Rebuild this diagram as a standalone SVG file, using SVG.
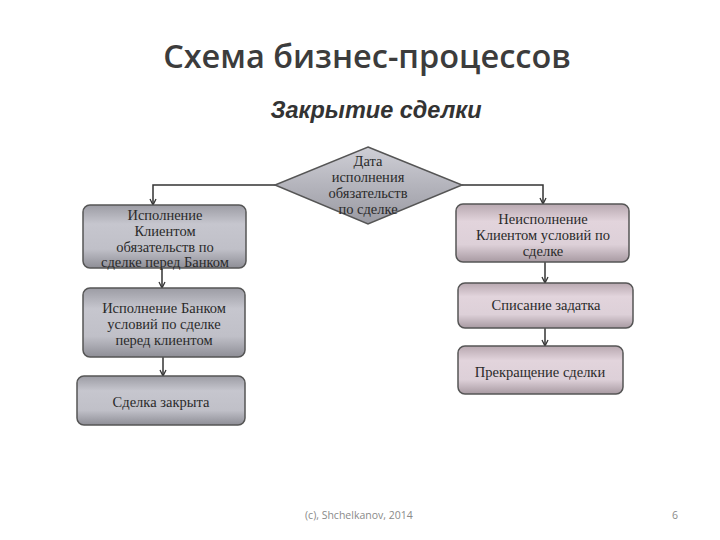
<svg xmlns="http://www.w3.org/2000/svg" width="720" height="540" viewBox="0 0 720 540">
<defs>
<linearGradient id="gGray" x1="0" y1="0" x2="0" y2="1">
<stop offset="0" stop-color="#9c9ca4"/>
<stop offset="0.3" stop-color="#c6c6ce"/>
<stop offset="0.7" stop-color="#c0c0c8"/>
<stop offset="1" stop-color="#8e8e96"/>
</linearGradient>
<linearGradient id="gPink" x1="0" y1="0" x2="0" y2="1">
<stop offset="0" stop-color="#b8a8b0"/>
<stop offset="0.3" stop-color="#e2d4dc"/>
<stop offset="0.7" stop-color="#ddd0d8"/>
<stop offset="1" stop-color="#a89aa2"/>
</linearGradient>
<linearGradient id="gDia" x1="0" y1="0" x2="0" y2="1">
<stop offset="0" stop-color="#cfcfd6"/>
<stop offset="0.5" stop-color="#b4b4bc"/>
<stop offset="1" stop-color="#9a9aa2"/>
</linearGradient>
<marker id="arr" markerWidth="8" markerHeight="8" refX="7" refY="4" orient="auto" markerUnits="userSpaceOnUse">
<path d="M1,1 L7,4 L1,7" fill="none" stroke="#333" stroke-width="1.3"/>
</marker>
</defs>
<style>
.title{font-family:"Open Sans","Liberation Sans",sans-serif;font-size:32.5px;font-weight:600;fill:#3c3c3c;text-anchor:middle}
.sub{font-family:"Liberation Sans",Arial,sans-serif;font-size:23.5px;font-weight:bold;font-style:italic;fill:#333;text-anchor:middle}
.t{font-family:"Liberation Serif","Times New Roman",serif;font-size:14.5px;fill:#2a2a2a;text-anchor:middle}
.box{stroke:#555;stroke-width:1.5}
.con{fill:none;stroke:#333;stroke-width:1.5}
.foot{font-family:"Open Sans","Liberation Sans",sans-serif;font-size:10.5px;fill:#8a8a8a}
</style>
<rect width="720" height="540" fill="#ffffff"/>
<text class="title" x="367" y="68">Схема бизнес-процессов</text>
<text class="sub" x="376" y="118">Закрытие сделки</text>

<g id="connectors">
<path class="con" d="M275,185 H153 V205" marker-end="url(#arr)"/>
<path class="con" d="M462,185 H543 V204" marker-end="url(#arr)"/>
<path class="con" d="M162,268 V288" marker-end="url(#arr)"/>
<path class="con" d="M163,357 V376" marker-end="url(#arr)"/>
<path class="con" d="M545,262 V283" marker-end="url(#arr)"/>
<path class="con" d="M545,328 V346" marker-end="url(#arr)"/>
</g>

<g id="decision">
<polygon class="box" points="368,147 462,185 368,224 275,185" fill="url(#gDia)" stroke-width="1"/>
<text class="t" x="368" y="166">Дата</text>
<text class="t" x="368" y="182">исполнения</text>
<text class="t" x="368" y="198">обязательств</text>
<text class="t" x="368" y="214">по сделке</text>
</g>

<g id="client-fulfil">
<rect class="box" x="83" y="205" width="163" height="63" rx="7" fill="url(#gGray)"/>
<text class="t" x="165" y="220">Исполнение</text>
<text class="t" x="165" y="236">Клиентом</text>
<text class="t" x="165" y="252">обязательств по</text>
<text class="t" x="165" y="267">сделке перед Банком</text>
</g>

<g id="bank-fulfil">
<rect class="box" x="83" y="288" width="162" height="69" rx="7" fill="url(#gGray)"/>
<text class="t" x="164" y="313">Исполнение Банком</text>
<text class="t" x="164" y="329">условий по сделке</text>
<text class="t" x="164" y="345">перед клиентом</text>
</g>

<g id="closed">
<rect class="box" x="77" y="376" width="168" height="49" rx="7" fill="url(#gGray)"/>
<text class="t" x="161" y="407">Сделка закрыта</text>
</g>

<g id="client-fail">
<rect class="box" x="456" y="204" width="173" height="58" rx="7" fill="url(#gPink)"/>
<text class="t" x="543" y="224">Неисполнение</text>
<text class="t" x="543" y="240">Клиентом условий по</text>
<text class="t" x="543" y="256">сделке</text>
</g>

<g id="write-off">
<rect class="box" x="458" y="283" width="175" height="45" rx="7" fill="url(#gPink)"/>
<text class="t" x="546" y="310">Списание задатка</text>
</g>

<g id="terminate">
<rect class="box" x="458" y="346" width="165" height="48" rx="7" fill="url(#gPink)"/>
<text class="t" x="540" y="377">Прекращение сделки</text>
</g>

<text class="foot" x="305" y="519">(c), Shchelkanov, 2014</text>
<text class="foot" x="672" y="519">6</text>
</svg>
